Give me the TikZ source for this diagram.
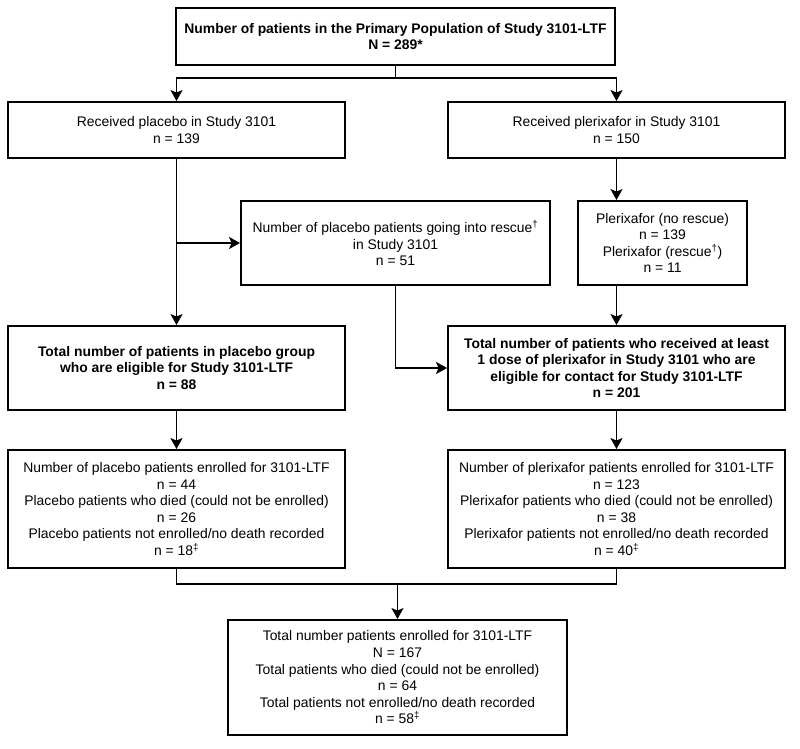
\documentclass[tikz,border=0pt]{standalone}
\usepackage{fontspec}
\setmainfont{Liberation Sans}
\usetikzlibrary{arrows.meta}
\begin{document}
\begin{tikzpicture}[x=1pt,y=-1pt,
  box/.style={draw,line width=1.9pt,inner sep=0pt,align=center,
    font=\fontsize{13.9}{16.6}\selectfont},
  arr/.style={line width=1.9pt,-{Stealth[length=11pt,width=12pt,inset=2.5pt]}},
  ln/.style={line width=1.9pt}]
\useasboundingbox (0,0) rectangle (800,748);
\node[box,minimum width=439pt,minimum height=57pt] (top) at (395.5,36.5)
  {\bfseries Number of patients in the Primary Population of Study 3101-LTF\\ \bfseries N = 289*};
\node[box,minimum width=337pt,minimum height=56pt] (b2) at (176.5,130)
  {Received placebo in Study 3101\\ n = 139};
\node[box,minimum width=337pt,minimum height=56pt] (b3) at (616.5,130)
  {Received plerixafor in Study 3101\\ n = 150};
\node[box,minimum width=309pt,minimum height=84pt] (b4) at (395.5,243)
  {Number of placebo patients going into rescue\textsuperscript{†}\\ in Study 3101\\ n = 51};
\node[box,minimum width=169pt,minimum height=84pt] (b5) at (662.5,243)
  {Plerixafor (no rescue)\\ n = 139\\ Plerixafor (rescue\textsuperscript{†})\\ n = 11};
\node[box,minimum width=337pt,minimum height=84pt] (b6) at (176.5,368)
  {\bfseries Total number of patients in placebo group\\ \bfseries who are eligible for Study 3101-LTF\\ \bfseries n = 88};
\node[box,minimum width=337pt,minimum height=84pt] (b7) at (616.5,368)
  {\bfseries Total number of patients who received at least\\ \bfseries 1 dose of plerixafor in Study 3101 who are\\ \bfseries eligible for contact for Study 3101-LTF\\ \bfseries n = 201};
\node[box,minimum width=337pt,minimum height=118pt] (b8) at (176.5,509)
  {Number of placebo patients enrolled for 3101-LTF\\ n = 44\\ Placebo patients who died (could not be enrolled)\\ n = 26\\ Placebo patients not enrolled/no death recorded\\ n = 18\textsuperscript{‡}};
\node[box,minimum width=337pt,minimum height=118pt] (b9) at (616.5,509)
  {Number of plerixafor patients enrolled for 3101-LTF\\ n = 123\\ Plerixafor patients who died (could not be enrolled)\\ n = 38\\ Plerixafor patients not enrolled/no death recorded\\ n = 40\textsuperscript{‡}};
\node[box,minimum width=339pt,minimum height=115pt] (b10) at (397.5,677.5)
  {Total number patients enrolled for 3101-LTF\\ N = 167\\ Total patients who died (could not be enrolled)\\ n = 64\\ Total patients not enrolled/no death recorded\\ n = 58\textsuperscript{‡}};
% connectors
\coordinate (j1) at ([yshift=-12pt]top.south);
\draw[ln] (top.south) -- (j1);
\draw[arr] (j1) -| (b2.north);
\draw[arr] (j1) -| (b3.north);
\draw[arr] (b2.south) -- (b6.north);
\draw[arr] (b2.south |- b4.west) -- (b4.west);
\draw[arr] (b4.south) |- (b7.west);
\draw[arr] (b3.south) -- (b3.south |- b5.north);
\draw[arr] (b3.south |- b5.south) -- (b7.north);
\draw[arr] (b6.south) -- (b8.north);
\draw[arr] (b7.south) -- (b9.north);
\coordinate (j2) at ([yshift=-15pt]b8.south);
\draw[ln] (b8.south) -- (j2) -| (b9.south);
\draw[arr] (b10.north |- j2) -- (b10.north);
\end{tikzpicture}
\end{document}
